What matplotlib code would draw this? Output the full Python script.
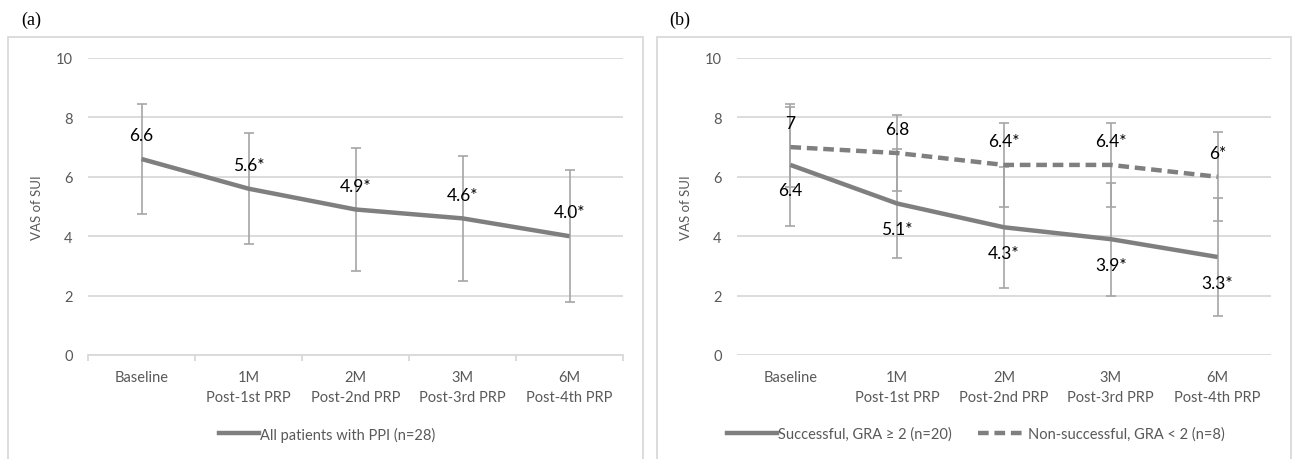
import numpy as np
import matplotlib
matplotlib.use("Agg")
import matplotlib.pyplot as plt
from matplotlib.lines import Line2D
from matplotlib.patches import Rectangle

plt.rcParams['font.family'] = ['Lato', 'DejaVu Sans']

# data
categories = ["Baseline", "1M\nPost-1st PRP", "2M\nPost-2nd PRP", "3M\nPost-3rd PRP", "6M\nPost-4th PRP"]

all_mean = [6.6, 5.6, 4.9, 4.6, 4.0]
all_sd = [1.86, 1.87, 2.08, 2.10, 2.22]
all_labels = ["6.6", "5.6*", "4.9*", "4.6*", "4.0*"]

succ_mean = [6.4, 5.1, 4.3, 3.9, 3.3]
succ_sd = [2.05, 1.85, 2.04, 1.90, 2.00]
succ_labels = ["6.4", "5.1*", "4.3*", "3.9*", "3.3*"]

fail_mean = [7.0, 6.8, 6.4, 6.4, 6.0]
fail_sd = [1.35, 1.28, 1.40, 1.40, 1.50]
fail_labels = ["7", "6.8", "6.4*", "6.4*", "6*"]

line_col = '#7f7f7f'
err_col = '#a6a6a6'
grid_col = '#d9d9d9'
text_col = '#595959'
dash = (0, (2.4, 1.3))

fig = plt.figure(figsize=(12.95, 4.6), dpi=100)

# panel frames (bottom edge runs off the image)
for x0, x1 in [(8, 643), (657, 1291)]:
    fig.patches.append(Rectangle((x0 / 1295, -0.02), (x1 - x0) / 1295, 1 - 38 / 460 + 0.02,
                                 transform=fig.transFigure, fill=False,
                                 edgecolor=grid_col, linewidth=1.3))

fig.text(21 / 1295, 1 - 20 / 460, "(a)", family='Liberation Serif', fontsize=13, va='center')
fig.text(669 / 1295, 1 - 20 / 460, "(b)", family='Liberation Serif', fontsize=13, va='center')

bottom = 1 - 356 / 460
height = (356 - 59) / 460
ax1 = fig.add_axes([88 / 1295, bottom, 535 / 1295, height])
ax2 = fig.add_axes([737 / 1295, bottom, 534 / 1295, height])

x = np.arange(len(categories))


def style(ax, axis_ticks):
    ax.set_xlim(-0.5, 4.5)
    ax.set_ylim(0, 10)
    ax.set_yticks([0, 2, 4, 6, 8, 10])
    ax.set_xticks(x)
    ax.set_xticklabels(categories, color=text_col, fontsize=10.5, linespacing=1.55)
    ax.tick_params(axis='y', length=0, pad=11, labelcolor=text_col, labelsize=10.5)
    ax.tick_params(axis='x', which='major', length=0, pad=11)
    ax.yaxis.grid(True, color=grid_col, linewidth=1.3)
    ax.set_axisbelow(True)
    for s in ax.spines.values():
        s.set_visible(False)
    if axis_ticks:
        ax.spines['bottom'].set_visible(True)
        ax.spines['bottom'].set_color(grid_col)
        ax.spines['bottom'].set_linewidth(1.3)
        ax.set_xticks(np.arange(-0.5, 5, 1), minor=True)
        ax.tick_params(axis='x', which='minor', length=4, color=grid_col, width=1.3)
    ax.set_ylabel("VAS of SUI", color=text_col, fontsize=9.5, labelpad=9)


style(ax1, True)
style(ax2, False)

# (a)
ax1.errorbar(x, all_mean, yerr=all_sd, fmt='none', ecolor=err_col, elinewidth=1.2,
             capsize=3.5, capthick=1.2, zorder=2)
ax1.plot(x, all_mean, color=line_col, linewidth=3.2, solid_capstyle='butt', zorder=3)
for xi, yi, t in zip(x, all_mean, all_labels):
    ax1.text(xi, yi + 0.8, t, ha='center', va='center', fontsize=12.5, color='black', zorder=4)

h = [Line2D([], [], color=line_col, linewidth=3.2)]
fig.legend(h, ["All patients with PPI (n=28)"], loc='center', bbox_to_anchor=(327 / 1295, 1 - 435 / 460),
           frameon=False, fontsize=10.5, labelcolor=text_col, handlelength=2.8, handletextpad=0.05)

# (b)
ax2.errorbar(x, succ_mean, yerr=succ_sd, fmt='none', ecolor=err_col, elinewidth=1.2,
             capsize=3.5, capthick=1.2, zorder=2)
ax2.errorbar(x, fail_mean, yerr=fail_sd, fmt='none', ecolor=err_col, elinewidth=1.2,
             capsize=3.5, capthick=1.2, zorder=2)
ax2.plot(x, succ_mean, color=line_col, linewidth=3.2, solid_capstyle='butt', zorder=3)
ax2.plot(x, fail_mean, color=line_col, linewidth=3.2, linestyle=dash, zorder=3)
for xi, yi, t in zip(x, succ_mean, succ_labels):
    ax2.text(xi, yi - 0.86, t, ha='center', va='center', fontsize=12.5, color='black', zorder=4)
for xi, yi, t in zip(x, fail_mean, fail_labels):
    ax2.text(xi, yi + 0.8, t, ha='center', va='center', fontsize=12.5, color='black', zorder=4)

h2 = [Line2D([], [], color=line_col, linewidth=3.2),
      Line2D([], [], color=line_col, linewidth=3.2, linestyle=dash)]
fig.legend(h2, ["Successful, GRA \u2265 2 (n=20)", "Non-successful, GRA < 2 (n=8)"], loc='center',
           bbox_to_anchor=(976 / 1295, 1 - 435 / 460), ncol=2, frameon=False, fontsize=10.5,
           labelcolor=text_col, handlelength=3.4, handletextpad=0.05, columnspacing=1.8)

fig.savefig("out.png", dpi=100)
